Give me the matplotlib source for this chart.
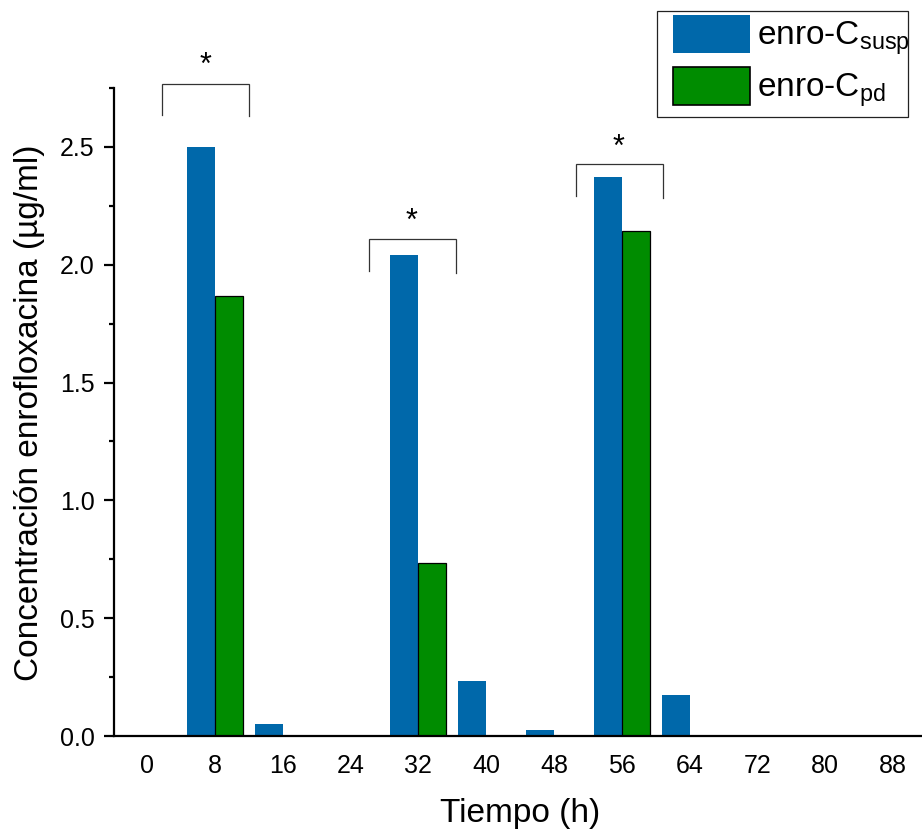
import matplotlib
matplotlib.use("Agg")
import matplotlib.pyplot as plt
from matplotlib.ticker import MultipleLocator, FormatStrFormatter
from matplotlib.patches import Patch, Rectangle
import numpy as np

plt.rcParams['font.family'] = ['Liberation Sans', 'DejaVu Sans']
plt.rcParams['mathtext.fontset'] = 'custom'
plt.rcParams['mathtext.rm'] = 'Liberation Sans'
plt.rcParams['mathtext.it'] = 'Liberation Sans'
plt.rcParams['mathtext.default'] = 'regular'

# ---- data ----
times = [0, 8, 16, 24, 32, 40, 48, 56, 64, 72, 80, 88]
enro_susp = [0, 2.50, 0.05, 0, 2.04, 0.232, 0.024, 2.373, 0.174, 0, 0, 0]
enro_pd = [0, 1.869, 0, 0, 0.736, 0, 0, 2.144, 0, 0, 0, 0]
series_labels = ['enro-C$_{susp}$', 'enro-C$_{pd}$']
xlabel = 'Tiempo (h)'
ylabel = 'Concentración enrofloxacina (µg/ml)'

# significance brackets: (x_left, x_right, y_top, y_left_leg, y_right_leg)
brackets = [
    (1.8, 12.03, 2.768, 2.636, 2.633),
    (26.18, 36.44, 2.110, 1.975, 1.966),
    (50.6, 60.85, 2.428, 2.292, 2.283),
]
stars_x = [6.92, 31.2, 55.66]
stars_y = [2.81, 2.146, 2.46]

blue = '#0068AA'
green = '#008C00'
bar_w = 3.3

W, H = 922, 831
fig = plt.figure(figsize=(W/100, H/100), dpi=100)
ax = fig.add_axes([114/W, 1-736/H, 1-114/W, (736-88)/H])

x = np.array(times, dtype=float)
ax.bar(x, enro_susp, width=-bar_w, align='edge', color=blue, edgecolor='none')
pd_vals = np.array(enro_pd)
mask = pd_vals > 0
ax.bar(x[mask], pd_vals[mask], width=bar_w, align='edge', color=green,
       edgecolor='black', linewidth=0.9)

ax.set_xlim(-3.89, 91.4)
ax.set_ylim(0, 2.75)
ax.set_xticks(times)
ax.yaxis.set_major_locator(MultipleLocator(0.5))
ax.yaxis.set_minor_locator(MultipleLocator(0.25))
ax.yaxis.set_major_formatter(FormatStrFormatter('%.1f'))

for s in ['top', 'right']:
    ax.spines[s].set_visible(False)
for s in ['left', 'bottom']:
    ax.spines[s].set_linewidth(1.6)
    ax.spines[s].set_capstyle('projecting')

ax.tick_params(axis='x', length=0, pad=13, labelsize=18)
ax.tick_params(axis='y', which='major', length=7, width=1.6, pad=7, labelsize=18)
ax.tick_params(axis='y', which='minor', length=3.5, width=1.6)

ax.set_xlabel(xlabel, fontsize=24, va='baseline')
ax.xaxis.set_label_coords(0.5025, (736-822)/648)
ax.set_ylabel(ylabel, fontsize=24, va='center')
ax.yaxis.set_label_coords((30-114)/808, 0.4985)

for (xl, xr, yt, yl, yr) in brackets:
    ax.plot([xl, xl, xr, xr], [yl, yt, yt, yr], color='#333333', lw=0.9,
            clip_on=False, solid_joinstyle='miter')
for sx, sy in zip(stars_x, stars_y):
    ax.text(sx, sy, '*', fontsize=22, ha='center', va='baseline', clip_on=False)

handles = [Patch(facecolor=blue, edgecolor='none'),
           Patch(facecolor=green, edgecolor='black', linewidth=1.2)]
leg = ax.legend(handles, series_labels, loc='upper left',
                bbox_to_anchor=(673/W, 1-15/H),
                bbox_transform=fig.transFigure, borderaxespad=0,
                fontsize=24, handlelength=2.31, handleheight=1.37,
                handletextpad=0.2, borderpad=0.0, labelspacing=0.28,
                frameon=False)
# legend frame
fig.add_artist(Rectangle((657/W, 1-117/H), (908-657)/W, (117-11)/H,
                         transform=fig.transFigure, facecolor='none',
                         edgecolor='#222222', linewidth=0.9, zorder=10))

fig.savefig('out.png', dpi=100)
